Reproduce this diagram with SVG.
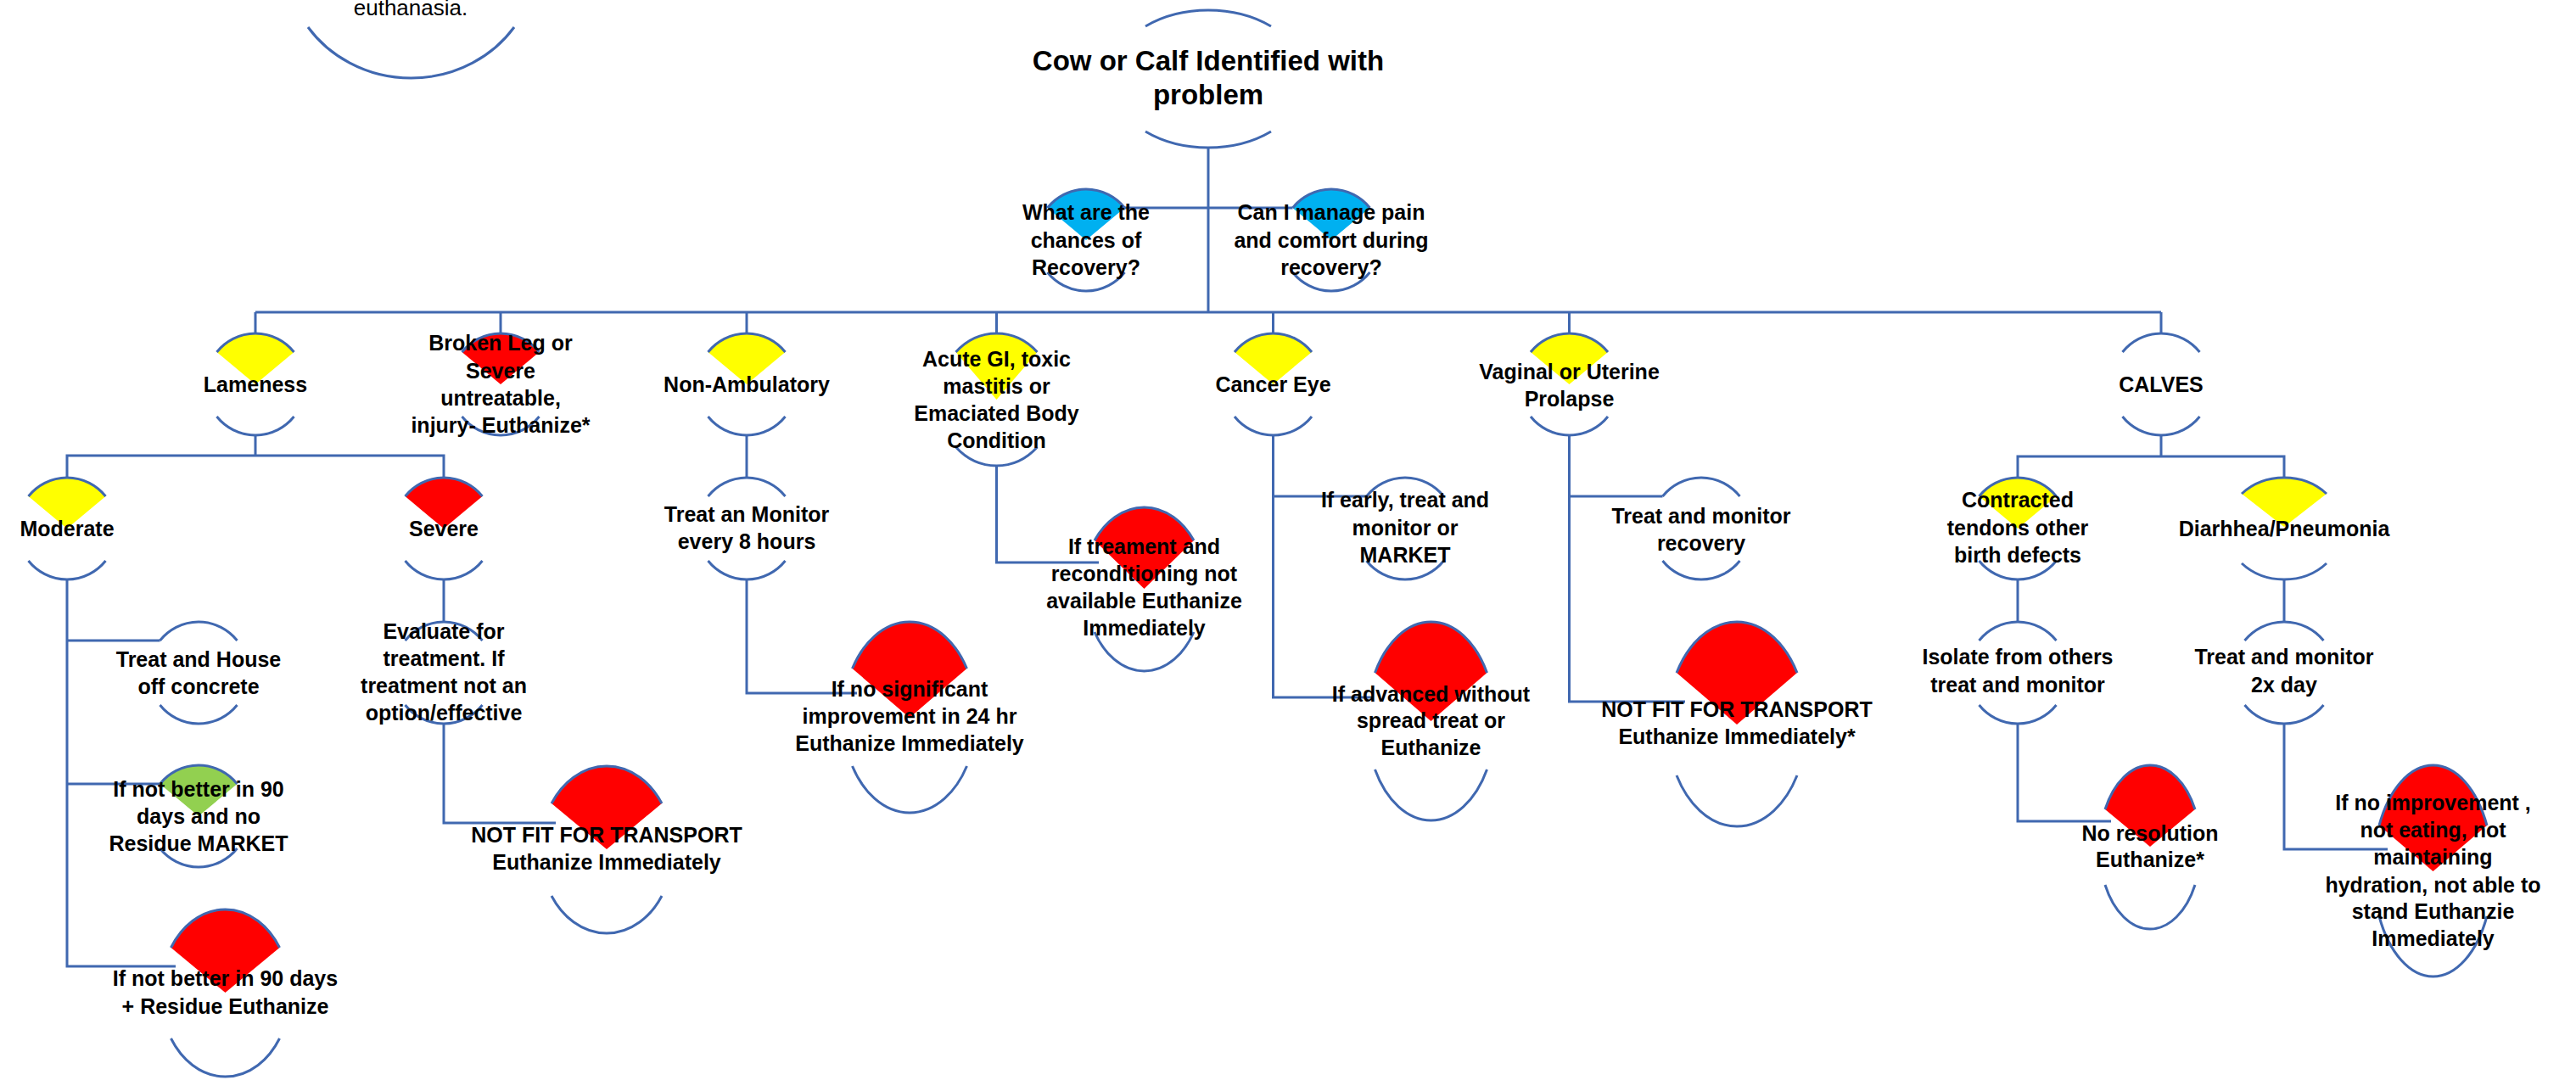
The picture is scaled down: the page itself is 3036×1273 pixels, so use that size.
<svg xmlns="http://www.w3.org/2000/svg" width="3036" height="1273" viewBox="0 0 3036 1273">
<style>
.bg{fill:#FFFFFF}
.arc{fill:none;stroke:#4068B0;stroke-width:3}
.conn{fill:none;stroke:#4068B0;stroke-width:3}
.y{fill:#FFFF00}
.r{fill:#FF0000}
.b{fill:#00B0F0}
.g{fill:#92D050}
.t{font-family:"Liberation Sans",Arial,sans-serif;font-weight:bold;font-size:25px;text-anchor:middle;fill:#000000}
.tt{font-family:"Liberation Sans",Arial,sans-serif;font-weight:bold;font-size:33px;text-anchor:middle;fill:#000000}
.tr{font-family:"Liberation Sans",Arial,sans-serif;font-weight:normal;font-size:26px;text-anchor:middle;fill:#000000}
</style>
<rect class="bg" x="0" y="0" width="3036" height="1273"/>

<g id="connectors">
<path class="conn" d="M1424,174 V368"/>
<path class="conn" d="M1325.5,245 H1523.5"/>
<path class="conn" d="M301,368 H2547"/>
<path class="conn" d="M301,368 V393 M590,368 V393 M880,368 V393 M1174.5,368 V393 M1500.5,368 V393 M1849.5,368 V393 M2547,368 V393"/>
<path class="conn" d="M301,513 V537 M79,563 V537 H523 V563"/>
<path class="conn" d="M79,683 V1139 H207 M79,755 H188.5 M79,924 H188.5"/>
<path class="conn" d="M523,683 V733 M523,853 V970 H655"/>
<path class="conn" d="M880,513 V563 M880,683 V817 H1010"/>
<path class="conn" d="M1174.5,549 V663 H1295"/>
<path class="conn" d="M1500.5,513 V822 H1619 M1500.5,585 H1610.5"/>
<path class="conn" d="M1849.5,513 V827 H1986 M1849.5,585 H1959.5"/>
<path class="conn" d="M2547,513 V538 M2378,563 V538 H2692 V563"/>
<path class="conn" d="M2378,683 V733 M2378,853 V968 H2488"/>
<path class="conn" d="M2692,683 V733 M2692,853 V1001 H2814"/>
</g>

<g id="node-euthanasia">
<path class="arc" d="M363,32 A148,140 0 0 0 606,32"/>
<text class="tr" x="484" y="18">euthanasia.</text>
</g>

<g id="node-root">
<path class="arc" d="M1350,31 A115,81 0 0 1 1498,31"/>
<path class="arc" d="M1350,155 A115,81 0 0 0 1498,155"/>
<text class="tt"><tspan x="1424" y="83">Cow or Calf Identified with</tspan><tspan x="1424" y="123">problem</tspan></text>
</g>

<g id="node-q-recovery">
<path class="b" d="M1234.5,245 A58.8,60 0 0 1 1325.5,245 L1280,283 Z"/>
<path class="arc" d="M1234.5,245 A58.8,60 0 0 1 1325.5,245"/>
<path class="arc" d="M1234.5,321 A58.8,60 0 0 0 1325.5,321"/>
<text class="t"><tspan x="1280" y="259">What are the</tspan><tspan x="1280" y="291.5">chances of</tspan><tspan x="1280" y="324">Recovery?</tspan></text>
</g>

<g id="node-q-pain">
<path class="b" d="M1523.5,245 A58.8,60 0 0 1 1614.5,245 L1569,283 Z"/>
<path class="arc" d="M1523.5,245 A58.8,60 0 0 1 1614.5,245"/>
<path class="arc" d="M1523.5,321 A58.8,60 0 0 0 1614.5,321"/>
<text class="t"><tspan x="1569" y="259">Can I manage pain</tspan><tspan x="1569" y="291.5">and comfort during</tspan><tspan x="1569" y="324">recovery?</tspan></text>
</g>

<g id="node-lameness">
<path class="y" d="M255.5,415 A58.8,60 0 0 1 346.5,415 L301,453 Z"/>
<path class="arc" d="M255.5,415 A58.8,60 0 0 1 346.5,415"/>
<path class="arc" d="M255.5,491 A58.8,60 0 0 0 346.5,491"/>
<text class="t" x="301" y="462">Lameness</text>
</g>

<g id="node-broken-leg">
<path class="r" d="M544.5,415 A58.8,60 0 0 1 635.5,415 L590,453 Z"/>
<path class="arc" d="M544.5,415 A58.8,60 0 0 1 635.5,415"/>
<path class="arc" d="M544.5,491 A58.8,60 0 0 0 635.5,491"/>
<text class="t"><tspan x="590" y="413">Broken Leg or</tspan><tspan x="590" y="446">Severe</tspan><tspan x="590" y="478">untreatable,</tspan><tspan x="590" y="510">injury- Euthanize*</tspan></text>
</g>

<g id="node-non-ambulatory">
<path class="y" d="M834.5,415 A58.8,60 0 0 1 925.5,415 L880,453 Z"/>
<path class="arc" d="M834.5,415 A58.8,60 0 0 1 925.5,415"/>
<path class="arc" d="M834.5,491 A58.8,60 0 0 0 925.5,491"/>
<text class="t" x="880" y="462">Non-Ambulatory</text>
</g>

<g id="node-acute-gi">
<path class="y" d="M1126.5,415 A69,78 0 0 1 1222.5,415 L1174.5,471 Z"/>
<path class="arc" d="M1126.5,415 A69,78 0 0 1 1222.5,415"/>
<path class="arc" d="M1126.5,527 A69,78 0 0 0 1222.5,527"/>
<text class="t"><tspan x="1174.5" y="432">Acute GI, toxic</tspan><tspan x="1174.5" y="464">mastitis or</tspan><tspan x="1174.5" y="496">Emaciated Body</tspan><tspan x="1174.5" y="528">Condition</tspan></text>
</g>

<g id="node-cancer-eye">
<path class="y" d="M1455,415 A58.8,60 0 0 1 1546,415 L1500.5,453 Z"/>
<path class="arc" d="M1455,415 A58.8,60 0 0 1 1546,415"/>
<path class="arc" d="M1455,491 A58.8,60 0 0 0 1546,491"/>
<text class="t" x="1500.5" y="462">Cancer Eye</text>
</g>

<g id="node-prolapse">
<path class="y" d="M1804,415 A58.8,60 0 0 1 1895,415 L1849.5,453 Z"/>
<path class="arc" d="M1804,415 A58.8,60 0 0 1 1895,415"/>
<path class="arc" d="M1804,491 A58.8,60 0 0 0 1895,491"/>
<text class="t"><tspan x="1849.5" y="447">Vaginal or Uterine</tspan><tspan x="1849.5" y="479">Prolapse</tspan></text>
</g>

<g id="node-calves">
<path class="arc" d="M2501.5,415 A58.8,60 0 0 1 2592.5,415"/>
<path class="arc" d="M2501.5,491 A58.8,60 0 0 0 2592.5,491"/>
<text class="t" x="2547" y="462">CALVES</text>
</g>

<g id="node-moderate">
<path class="y" d="M33.5,585 A58.8,60 0 0 1 124.5,585 L79,623 Z"/>
<path class="arc" d="M33.5,585 A58.8,60 0 0 1 124.5,585"/>
<path class="arc" d="M33.5,661 A58.8,60 0 0 0 124.5,661"/>
<text class="t" x="79" y="632">Moderate</text>
</g>

<g id="node-severe">
<path class="r" d="M477.5,585 A58.8,60 0 0 1 568.5,585 L523,623 Z"/>
<path class="arc" d="M477.5,585 A58.8,60 0 0 1 568.5,585"/>
<path class="arc" d="M477.5,661 A58.8,60 0 0 0 568.5,661"/>
<text class="t" x="523" y="632">Severe</text>
</g>

<g id="node-treat-monitor-8h">
<path class="arc" d="M834.5,585 A58.8,60 0 0 1 925.5,585"/>
<path class="arc" d="M834.5,661 A58.8,60 0 0 0 925.5,661"/>
<text class="t"><tspan x="880" y="615">Treat an Monitor</tspan><tspan x="880" y="647">every 8 hours</tspan></text>
</g>

<g id="node-early-market">
<path class="arc" d="M1610.5,585 A58.8,60 0 0 1 1701.5,585"/>
<path class="arc" d="M1610.5,661 A58.8,60 0 0 0 1701.5,661"/>
<text class="t"><tspan x="1656" y="598">If early, treat and</tspan><tspan x="1656" y="631">monitor or</tspan><tspan x="1656" y="663">MARKET</tspan></text>
</g>

<g id="node-treat-recovery">
<path class="arc" d="M1959.5,585 A58.8,60 0 0 1 2050.5,585"/>
<path class="arc" d="M1959.5,661 A58.8,60 0 0 0 2050.5,661"/>
<text class="t"><tspan x="2005" y="617">Treat and monitor</tspan><tspan x="2005" y="649">recovery</tspan></text>
</g>

<g id="node-contracted">
<path class="y" d="M2332.5,585 A58.8,60 0 0 1 2423.5,585 L2378,623 Z"/>
<path class="arc" d="M2332.5,585 A58.8,60 0 0 1 2423.5,585"/>
<path class="arc" d="M2332.5,661 A58.8,60 0 0 0 2423.5,661"/>
<text class="t"><tspan x="2378" y="598">Contracted</tspan><tspan x="2378" y="631">tendons other</tspan><tspan x="2378" y="663">birth defects</tspan></text>
</g>

<g id="node-diarrhea">
<path class="y" d="M2642,582 A68.5,60 0 0 1 2742,582 L2692,621 Z"/>
<path class="arc" d="M2642,582 A68.5,60 0 0 1 2742,582"/>
<path class="arc" d="M2642,664 A68.5,60 0 0 0 2742,664"/>
<text class="t" x="2692" y="632">Diarhhea/Pneumonia</text>
</g>

<g id="node-house-off-concrete">
<path class="arc" d="M188.5,755 A58.8,60 0 0 1 279.5,755"/>
<path class="arc" d="M188.5,831 A58.8,60 0 0 0 279.5,831"/>
<text class="t"><tspan x="234" y="786">Treat and House</tspan><tspan x="234" y="818">off concrete</tspan></text>
</g>

<g id="node-evaluate">
<path class="arc" d="M477.5,755 A58.8,60 0 0 1 568.5,755"/>
<path class="arc" d="M477.5,831 A58.8,60 0 0 0 568.5,831"/>
<text class="t"><tspan x="523" y="753">Evaluate for</tspan><tspan x="523" y="785">treatment. If</tspan><tspan x="523" y="817">treatment not an</tspan><tspan x="523" y="849">option/effective</tspan></text>
</g>

<g id="node-isolate">
<path class="arc" d="M2332.5,755 A58.8,60 0 0 1 2423.5,755"/>
<path class="arc" d="M2332.5,831 A58.8,60 0 0 0 2423.5,831"/>
<text class="t"><tspan x="2378" y="783">Isolate from others</tspan><tspan x="2378" y="816">treat and monitor</tspan></text>
</g>

<g id="node-treat-2x">
<path class="arc" d="M2645.5,755 A60,60 0 0 1 2738.5,755"/>
<path class="arc" d="M2645.5,831 A60,60 0 0 0 2738.5,831"/>
<text class="t"><tspan x="2692" y="783">Treat and monitor</tspan><tspan x="2692" y="816">2x day</tspan></text>
</g>

<g id="node-market-90">
<path class="g" d="M188.5,924 A58.8,60 0 0 1 279.5,924 L234,962 Z"/>
<path class="arc" d="M188.5,924 A58.8,60 0 0 1 279.5,924"/>
<path class="arc" d="M188.5,1000 A58.8,60 0 0 0 279.5,1000"/>
<text class="t"><tspan x="234" y="939">If not better in 90</tspan><tspan x="234" y="971">days and no</tspan><tspan x="234" y="1003">Residue MARKET</tspan></text>
</g>

<g id="node-euth-90">
<path class="r" d="M201.5,1117 A76.2,98.5 0 0 1 329.5,1117 L265.5,1170 Z"/>
<path class="arc" d="M201.5,1117 A76.2,98.5 0 0 1 329.5,1117"/>
<path class="arc" d="M201.5,1224 A76.2,98.5 0 0 0 329.5,1224"/>
<text class="t"><tspan x="265.5" y="1162">If not better in 90 days</tspan><tspan x="265.5" y="1195">+  Residue Euthanize</tspan></text>
</g>

<g id="node-not-fit-severe">
<path class="r" d="M650,947 A78,98.5 0 0 1 780,947 L715,1001 Z"/>
<path class="arc" d="M650,947 A78,98.5 0 0 1 780,947"/>
<path class="arc" d="M650,1056 A78,98.5 0 0 0 780,1056"/>
<text class="t"><tspan x="715" y="993">NOT FIT FOR TRANSPORT</tspan><tspan x="715" y="1025">Euthanize Immediately</tspan></text>
</g>

<g id="node-no-improvement-24h">
<path class="r" d="M1004.5,788 A78.7,113 0 0 1 1139.5,788 L1072,846 Z"/>
<path class="arc" d="M1004.5,788 A78.7,113 0 0 1 1139.5,788"/>
<path class="arc" d="M1004.5,903 A78.7,113 0 0 0 1139.5,903"/>
<text class="t"><tspan x="1072" y="821">If no significant</tspan><tspan x="1072" y="853">improvement in 24 hr</tspan><tspan x="1072" y="885">Euthanize Immediately</tspan></text>
</g>

<g id="node-reconditioning">
<path class="r" d="M1290,637 A72.8,96.5 0 0 1 1407,637 L1348.5,694 Z"/>
<path class="arc" d="M1290,637 A72.8,96.5 0 0 1 1407,637"/>
<path class="arc" d="M1290,745 A68.7,96.5 0 0 0 1407,745"/>
<text class="t"><tspan x="1348.5" y="653">If treament and</tspan><tspan x="1348.5" y="685">reconditioning not</tspan><tspan x="1348.5" y="717">available Euthanize</tspan><tspan x="1348.5" y="749">Immediately</tspan></text>
</g>

<g id="node-advanced">
<path class="r" d="M1620.5,793 A75.7,117.5 0 0 1 1752.5,793 L1686.5,850 Z"/>
<path class="arc" d="M1620.5,793 A75.7,117.5 0 0 1 1752.5,793"/>
<path class="arc" d="M1620.5,907 A75.7,117.5 0 0 0 1752.5,907"/>
<text class="t"><tspan x="1686.5" y="827">If advanced without</tspan><tspan x="1686.5" y="858">spread treat or</tspan><tspan x="1686.5" y="890">Euthanize</tspan></text>
</g>

<g id="node-not-fit-prolapse">
<path class="r" d="M1976,793 A82.2,121 0 0 1 2118,793 L2047,854 Z"/>
<path class="arc" d="M1976,793 A82.2,121 0 0 1 2118,793"/>
<path class="arc" d="M1976,914 A82.2,121 0 0 0 2118,914"/>
<text class="t"><tspan x="2047" y="845">NOT FIT FOR TRANSPORT</tspan><tspan x="2047" y="877">Euthanize Immediately*</tspan></text>
</g>

<g id="node-no-resolution">
<path class="r" d="M2481,954 A59.7,96.5 0 0 1 2587,954 L2534,998 Z"/>
<path class="arc" d="M2481,954 A59.7,96.5 0 0 1 2587,954"/>
<path class="arc" d="M2481,1043 A59.7,96.5 0 0 0 2587,1043"/>
<text class="t"><tspan x="2534" y="991">No resolution</tspan><tspan x="2534" y="1022">Euthanize*</tspan></text>
</g>

<g id="node-calf-euthanize">
<path class="r" d="M2804,973 A70.5,125.5 0 0 1 2931,973 L2867.5,1027 Z"/>
<path class="arc" d="M2804,973 A70.5,125.5 0 0 1 2931,973"/>
<path class="arc" d="M2804,1080 A70.5,125.5 0 0 0 2931,1080"/>
<text class="t"><tspan x="2867.5" y="955">If no improvement ,</tspan><tspan x="2867.5" y="987">not eating, not</tspan><tspan x="2867.5" y="1019">maintaining</tspan><tspan x="2867.5" y="1052">hydration, not able to</tspan><tspan x="2867.5" y="1083">stand Euthanzie</tspan><tspan x="2867.5" y="1115">Immediately</tspan></text>
</g>
</svg>
